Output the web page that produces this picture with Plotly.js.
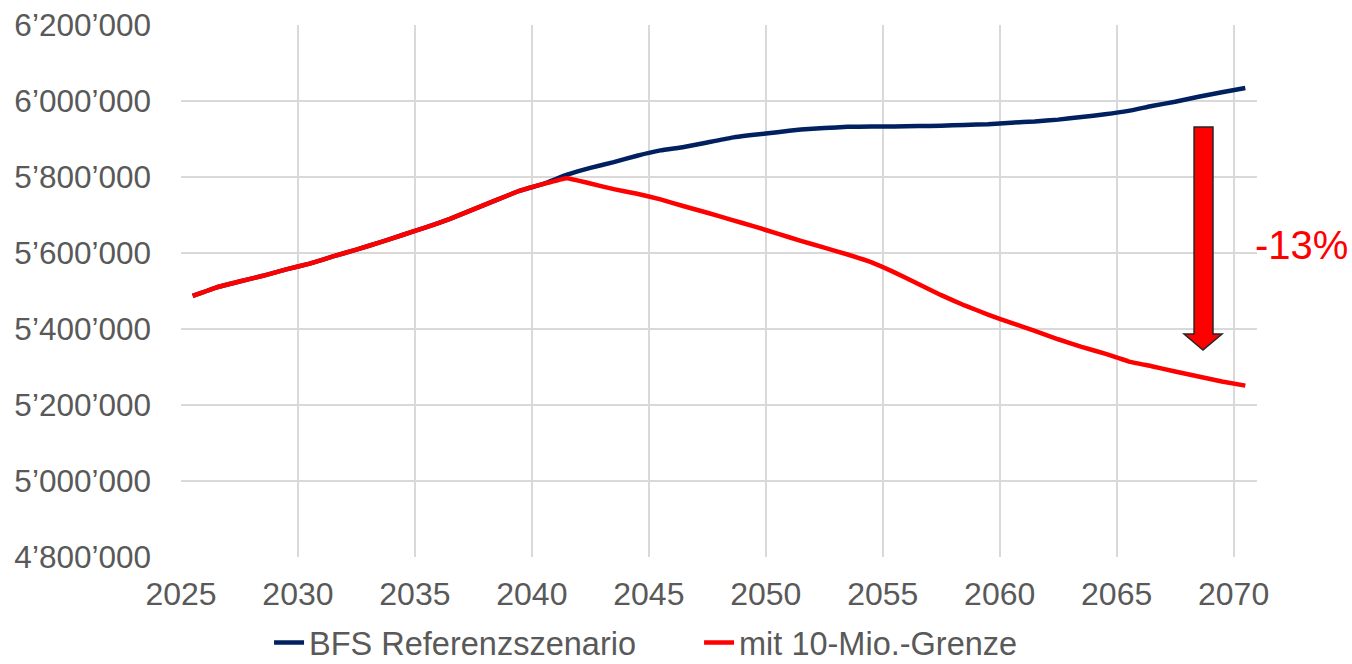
<!DOCTYPE html>
<html>
<head>
<meta charset="utf-8">
<script src="https://cdn.plot.ly/plotly-3.0.1.min.js"></script>
<style>html,body{margin:0;padding:0;background:#fff;}#chart{width:1352px;height:664px;}</style>
</head>
<body>
<div id="chart"></div>
<script>
const years = [2025,2026,2027,2028,2029,2030,2031,2032,2033,2034,2035,2036,2037,2038,2039,2040,2041,2042,2043,2044,2045,2046,2047,2048,2049,2050,2051,2052,2053,2054,2055,2056,2057,2058,2059,2060,2061,2062,2063,2064,2065,2066,2067,2068,2069,2070];

const bfsReferenz = [5487000,5509000,5525000,5540000,5557000,5572000,5591000,5609000,5628000,5648000,5668000,5690000,5715000,5740000,5764000,5782000,5806000,5824000,5839000,5856000,5870000,5879000,5891000,5903000,5911000,5918000,5925000,5929000,5932000,5933000,5933000,5934000,5935000,5937000,5939000,5943000,5946000,5951000,5958000,5965000,5974000,5987000,5998000,6011000,6023000,6034000];

const mit10Mio = [5487000,5509000,5525000,5540000,5557000,5572000,5591000,5609000,5628000,5648000,5668000,5690000,5715000,5740000,5764000,5782000,5797000,5783000,5768000,5756000,5741000,5723000,5706000,5688000,5670000,5651000,5632000,5614000,5596000,5576000,5549000,5519000,5489000,5462000,5438000,5416000,5395000,5373000,5353000,5335000,5315000,5302000,5288000,5275000,5262000,5251000];

const seriesNames = ["BFS Referenzszenario", "mit 10-Mio.-Grenze"];
const xTickLabels = ["2025","2030","2035","2040","2045","2050","2055","2060","2065","2070"];
const yTickValues = [4800000,5000000,5200000,5400000,5600000,5800000,6000000,6200000];
const yTickLabels = ["4’800’000","5’000’000","5’200’000","5’400’000","5’600’000","5’800’000","6’000’000","6’200’000"];
const changeLabel = "-13%";

const gray = "#595959";
const grid = "#d9d9d9";
const FONT = "Liberation Sans, Arial, sans-serif";

const traces = [
  {x: years, y: bfsReferenz, name: seriesNames[0], type: "scatter", mode: "lines",
   line: {color: "#002060", width: 4.5, shape: "spline", smoothing: 0.3}},
  {x: years, y: mit10Mio, name: seriesNames[1], type: "scatter", mode: "lines",
   line: {color: "#ff0000", width: 4.5, shape: "spline", smoothing: 0.3}}
];

// gridlines sit at category boundaries (half a year before each labelled year)
const xGridVals = xTickLabels.map(t => Number(t) - 0.5);

const layout = {
  width: 1352, height: 664,
  margin: {l: 181, r: 95, t: 25, b: 107, autoexpand: false},
  paper_bgcolor: "#fff", plot_bgcolor: "#fff",
  font: {family: FONT, color: gray, size: 32},
  showlegend: true,
  legend: {orientation: "h", xref: "container", yref: "container",
           x: 0.199, xanchor: "left", y: 0.032, yanchor: "middle",
           entrywidth: 385, entrywidthmode: "pixels",
           font: {family: FONT, size: 32.5, color: gray}, bgcolor: "rgba(0,0,0,0)"},
  xaxis: {
    range: [years[0] - 0.5, years[years.length - 1] + 0.5],
    tickmode: "array", tickvals: xGridVals, ticktext: xTickLabels,
    ticklabelshift: 11.7, ticklabelstandoff: 15,
    showgrid: true, gridcolor: grid, gridwidth: 2,
    ticks: "", zeroline: false, showline: false,
    tickfont: {family: FONT, size: 32, color: gray}, fixedrange: true
  },
  yaxis: {
    range: [yTickValues[0], yTickValues[yTickValues.length - 1]],
    tickmode: "array", tickvals: yTickValues, ticktext: yTickLabels,
    showgrid: true, gridcolor: grid, gridwidth: 2,
    ticks: "", zeroline: false, showline: false, ticklabelstandoff: 29,
    tickfont: {family: FONT, size: 31.5, color: gray}, fixedrange: true
  },
  shapes: [
    {type: "path", xref: "paper", yref: "paper",
     path: "M 0.9415 0.8083 L 0.9591 0.8083 L 0.9591 0.4192 L 0.9675 0.4192 L 0.9498 0.3891 L 0.9322 0.4192 L 0.9415 0.4192 Z",
     fillcolor: "#ff0000", line: {color: "#262626", width: 1.5}}
  ],
  annotations: [
    {text: changeLabel, xref: "paper", yref: "paper", x: 0.996, y: 0.586,
     xanchor: "left", yanchor: "middle", showarrow: false,
     font: {family: FONT, size: 40, color: "#ff0000"}}
  ]
};

Plotly.newPlot("chart", traces, layout, {displayModeBar: false, staticPlot: true});
</script>
</body>
</html>
